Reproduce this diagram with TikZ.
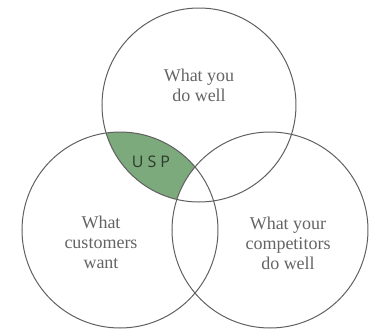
\documentclass[tikz,border=0pt]{standalone}
\usepackage{fontspec}
\setmainfont{Liberation Serif}
\newfontfamily\uspfont[LetterSpace=25]{Open Sans}
\definecolor{uspgreen}{RGB}{124,170,124}
\definecolor{ringgray}{RGB}{95,95,95}
\definecolor{labelgray}{RGB}{100,100,100}
\tikzset{every picture/.style={line width=0.75pt}}
\tikzset{
  ring/.style={draw=ringgray},
  setlabel/.style={inner sep=0.75pt, align=center, text=labelgray, font=\fontsize{13.5}{15}\selectfont},
}

\begin{document}
\begin{tikzpicture}[x=0.75pt,y=0.75pt,yscale=-1,xscale=1]
\useasboundingbox (0,0) rectangle (369,329);

%Circle centres
\coordinate (cTop) at (199,105);
\coordinate (cLeft) at (120,230);
\coordinate (cRight) at (270,230);

%Shape: USP lens (top and left, not right)
\begin{scope}
\clip (cTop) circle (97);
\clip (cLeft) circle (98);
\fill [uspgreen] (0,0) rectangle (369,329);
\fill [white] (cRight) circle (98);
\end{scope}

%Shape: Circle
\draw [ring] (cTop) circle (97);
%Shape: Circle
\draw [ring] (cLeft) circle (98);
%Shape: Circle
\draw [ring] (cRight) circle (98);

% Text Node
\node [setlabel] (doWell) at (199,85) {What you\\do well};
% Text Node
\node [setlabel] (want) at (101,242) {What\\customers\\want};
% Text Node
\node [setlabel] (rivals) at (288,243) {What your\\competitors\\do well};
% Text Node
\node [inner sep=0.75pt, text={rgb,255:red,45;green,58;blue,45}, font=\uspfont\fontsize{12}{14}\selectfont] (usp) at (151,162) {USP};

\end{tikzpicture}
\end{document}
